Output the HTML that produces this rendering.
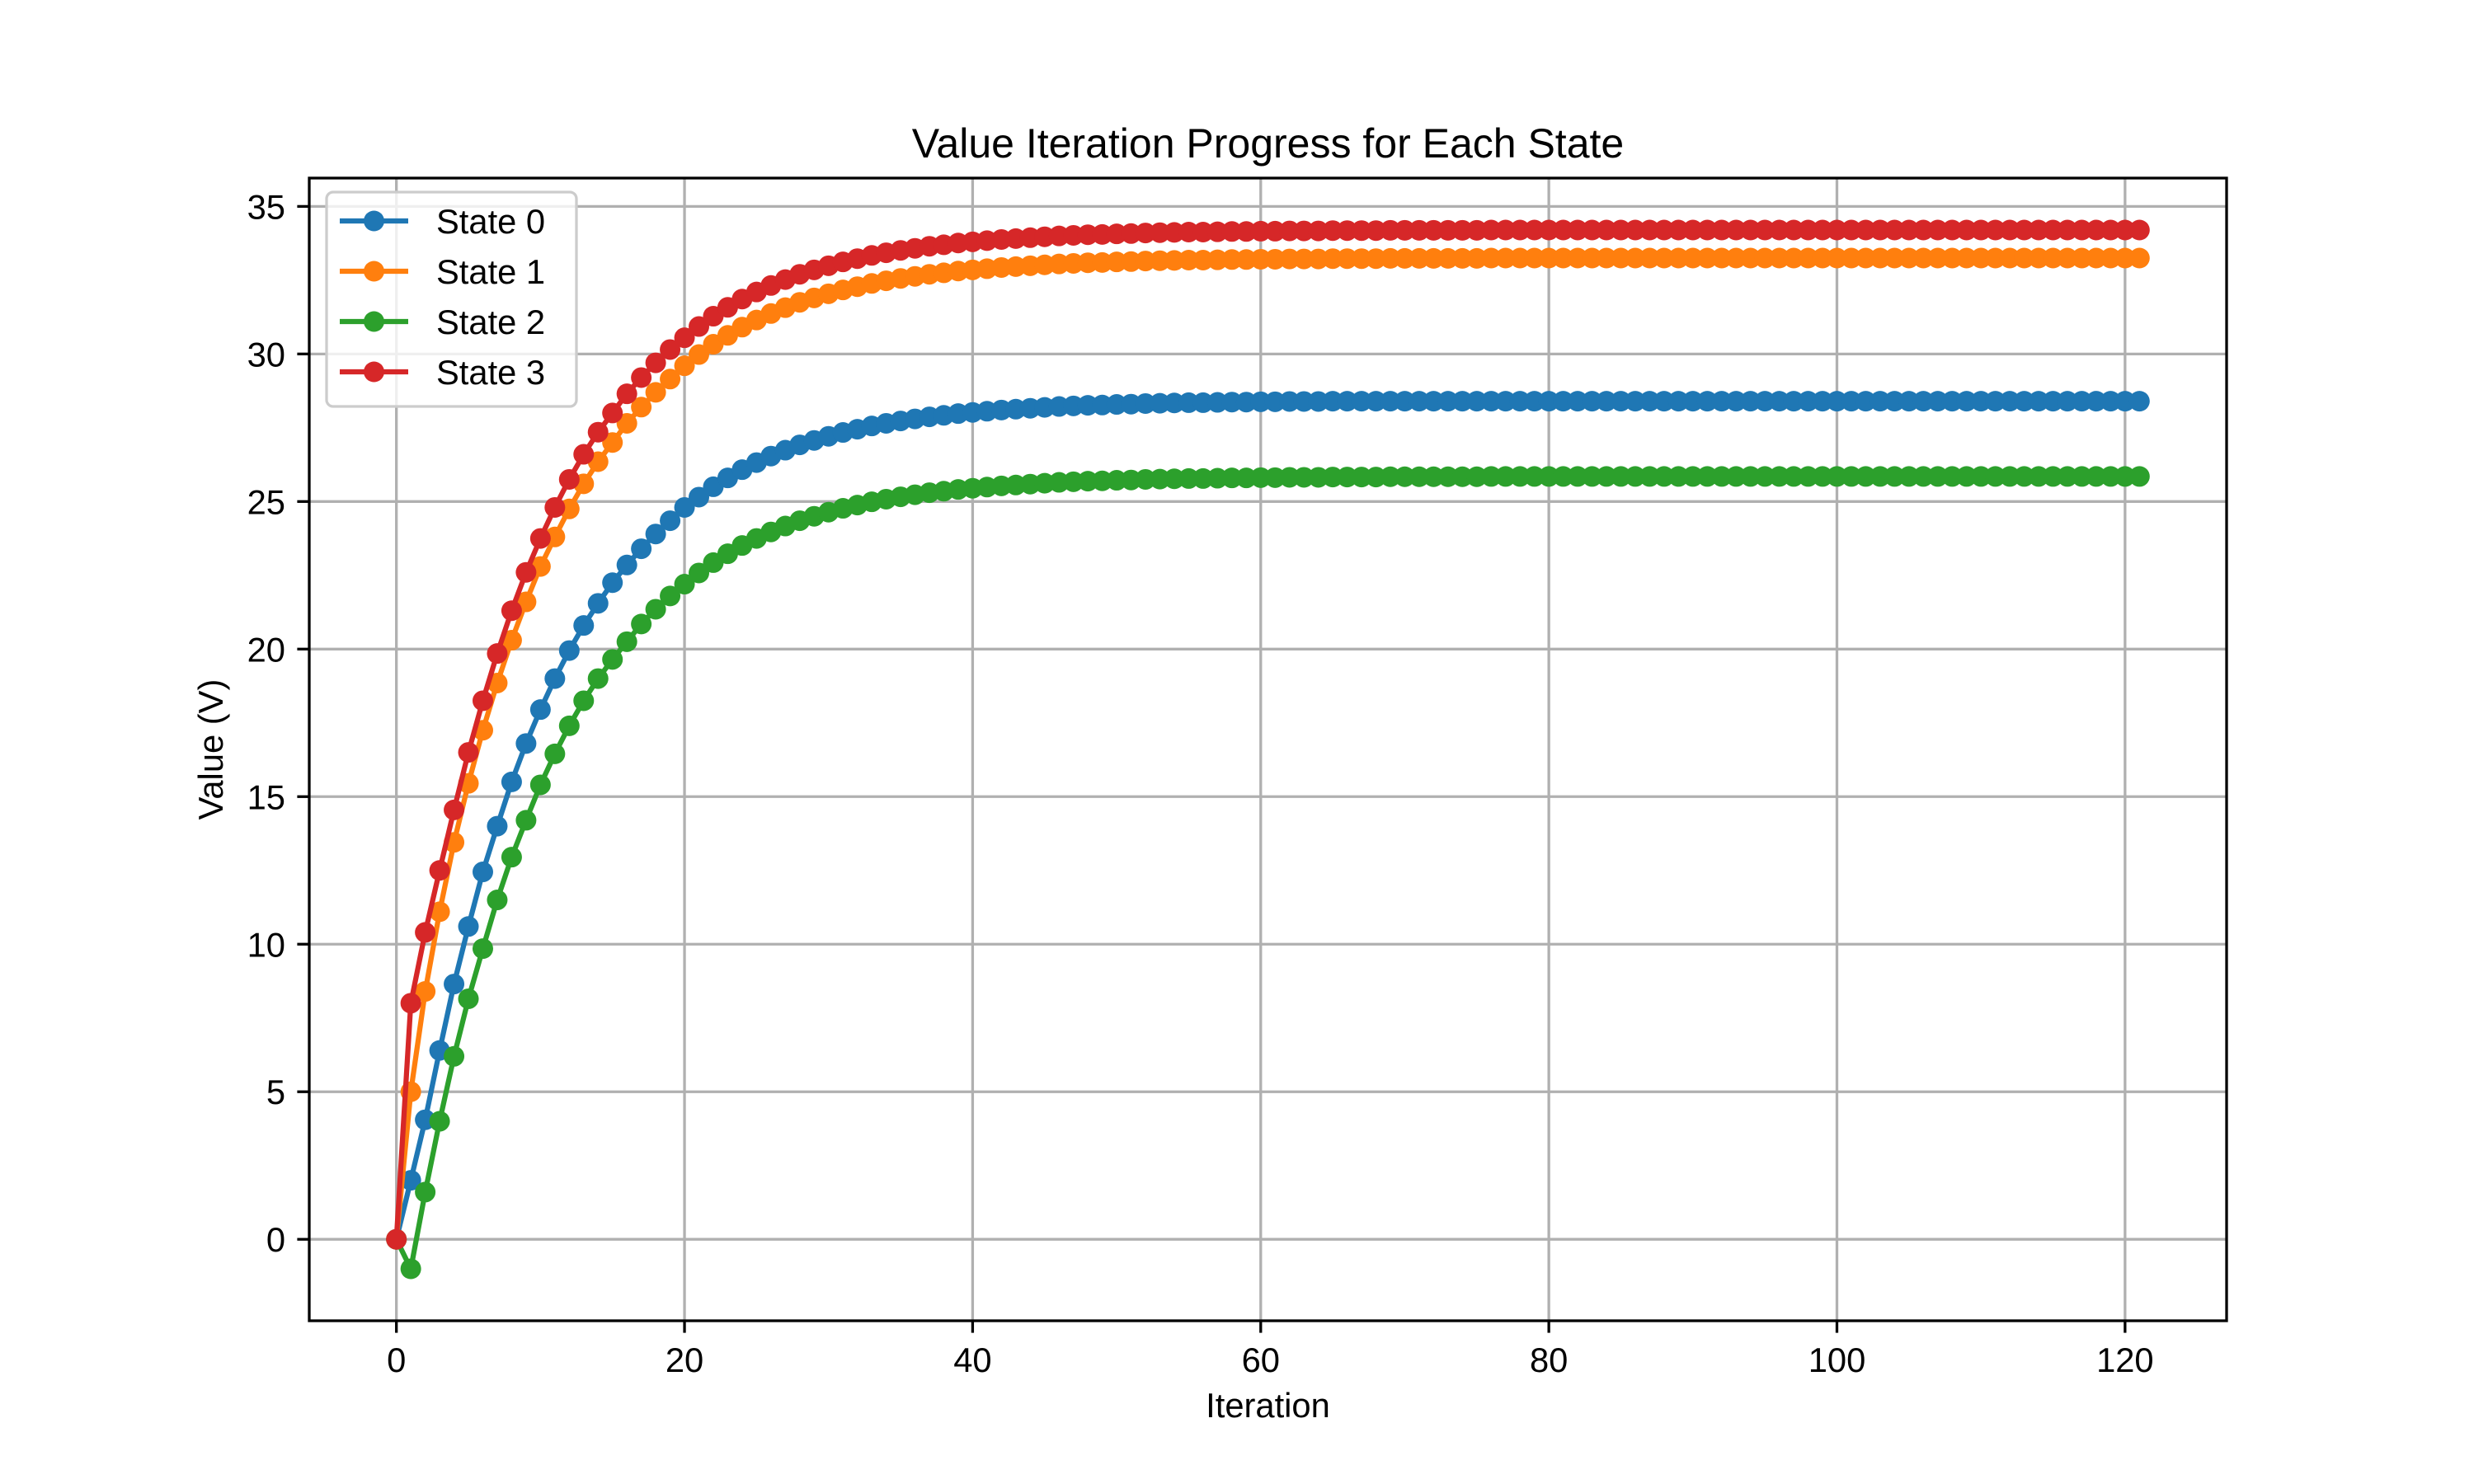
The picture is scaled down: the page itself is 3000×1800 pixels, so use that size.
<!DOCTYPE html>
<html><head><meta charset="utf-8"><style>
html,body{margin:0;padding:0;background:#fff;}
svg{display:block;font-family:"Liberation Sans","DejaVu Sans",sans-serif;}
</style></head><body>
<svg id="chart" width="3000" height="1800" viewBox="0 0 3000 1800" xmlns="http://www.w3.org/2000/svg">
<rect width="3000" height="1800" fill="#fff"/>
<g id="grid"></g>
<g id="series"></g>
<rect x="375" y="216" width="2325" height="1386" fill="none" stroke="#000" stroke-width="3.3"/>
<g id="ticks"></g>
<text x="1537.5" y="191" text-anchor="middle" font-size="50">Value Iteration Progress for Each State</text>
<text x="1537.5" y="1719" text-anchor="middle" font-size="41.7">Iteration</text>
<text x="0" y="0" transform="translate(270,909) rotate(-90)" text-anchor="middle" font-size="41.7">Value (V)</text>
<g id="legend"></g>
</svg>
<script>
const seriesNames = ["State 0","State 1","State 2","State 3"];
const colors = ["#1f77b4","#ff7f0e","#2ca02c","#d62728"];
const xTicks = [0,20,40,60,80,100,120];
const yTicks = [0,5,10,15,20,25,30,35];
const state0 = [0,2.0,4.05,6.4,8.65,10.6,12.45,14.0,15.5,16.8,17.95,19.0,19.95,20.8,21.55,22.25,22.85,23.4,23.9,24.35,24.8,25.15,25.5,25.8,26.08,26.32,26.54,26.74,26.92,27.07,27.21,27.34,27.45,27.56,27.65,27.73,27.8,27.87,27.92,27.98,28.02,28.06,28.1,28.13,28.16,28.19,28.22,28.24,28.26,28.27,28.29,28.3,28.32,28.33,28.34,28.35,28.35,28.36,28.37,28.37,28.38,28.38,28.39,28.39,28.39,28.4,28.4,28.4,28.4,28.4,28.4,28.4,28.4,28.4,28.4,28.4,28.4,28.4,28.4,28.4,28.4,28.4,28.4,28.4,28.4,28.4,28.4,28.4,28.4,28.4,28.4,28.4,28.4,28.4,28.4,28.4,28.4,28.4,28.4,28.4,28.4,28.4,28.4,28.4,28.4,28.4,28.4,28.4,28.4,28.4,28.4,28.4,28.4,28.4,28.4,28.4,28.4,28.4,28.4,28.4,28.4,28.4];
const state1 = [0,5.0,8.4,11.1,13.45,15.45,17.25,18.85,20.3,21.6,22.8,23.8,24.75,25.6,26.35,27.0,27.65,28.2,28.7,29.15,29.6,29.98,30.33,30.63,30.91,31.15,31.37,31.57,31.75,31.9,32.04,32.17,32.28,32.39,32.48,32.56,32.63,32.7,32.75,32.81,32.85,32.89,32.93,32.96,32.99,33.02,33.05,33.07,33.09,33.1,33.12,33.13,33.15,33.16,33.17,33.18,33.18,33.19,33.2,33.2,33.21,33.21,33.22,33.22,33.22,33.23,33.23,33.23,33.23,33.24,33.24,33.24,33.24,33.24,33.24,33.24,33.25,33.25,33.25,33.25,33.25,33.25,33.25,33.25,33.25,33.25,33.25,33.25,33.25,33.25,33.25,33.25,33.25,33.25,33.25,33.25,33.25,33.25,33.25,33.25,33.25,33.25,33.25,33.25,33.25,33.25,33.25,33.25,33.25,33.25,33.25,33.25,33.25,33.25,33.25,33.25,33.25,33.25,33.25,33.25,33.25,33.25];
const state2 = [0,-1.0,1.6,4.0,6.2,8.15,9.85,11.5,12.95,14.2,15.4,16.45,17.4,18.25,19.0,19.65,20.25,20.85,21.35,21.8,22.2,22.58,22.93,23.23,23.51,23.75,23.97,24.17,24.35,24.5,24.64,24.77,24.88,24.99,25.08,25.16,25.23,25.3,25.35,25.41,25.45,25.49,25.53,25.56,25.59,25.62,25.65,25.67,25.69,25.7,25.72,25.73,25.75,25.76,25.77,25.78,25.78,25.79,25.8,25.8,25.81,25.81,25.82,25.82,25.82,25.83,25.83,25.83,25.83,25.84,25.84,25.84,25.84,25.84,25.84,25.84,25.85,25.85,25.85,25.85,25.85,25.85,25.85,25.85,25.85,25.85,25.85,25.85,25.85,25.85,25.85,25.85,25.85,25.85,25.85,25.85,25.85,25.85,25.85,25.85,25.85,25.85,25.85,25.85,25.85,25.85,25.85,25.85,25.85,25.85,25.85,25.85,25.85,25.85,25.85,25.85,25.85,25.85,25.85,25.85,25.85,25.85];
const state3 = [0,8.0,10.4,12.5,14.55,16.5,18.25,19.85,21.3,22.6,23.75,24.8,25.75,26.6,27.35,28.0,28.65,29.2,29.7,30.15,30.55,30.93,31.28,31.58,31.86,32.1,32.32,32.52,32.7,32.85,32.99,33.12,33.23,33.34,33.43,33.51,33.58,33.65,33.7,33.76,33.8,33.84,33.88,33.91,33.94,33.97,34.0,34.02,34.04,34.05,34.07,34.08,34.1,34.11,34.12,34.13,34.13,34.14,34.15,34.15,34.16,34.16,34.17,34.17,34.17,34.18,34.18,34.18,34.18,34.19,34.19,34.19,34.19,34.19,34.19,34.19,34.2,34.2,34.2,34.2,34.2,34.2,34.2,34.2,34.2,34.2,34.2,34.2,34.2,34.2,34.2,34.2,34.2,34.2,34.2,34.2,34.2,34.2,34.2,34.2,34.2,34.2,34.2,34.2,34.2,34.2,34.2,34.2,34.2,34.2,34.2,34.2,34.2,34.2,34.2,34.2,34.2,34.2,34.2,34.2,34.2,34.2];
const allSeries = [state0,state1,state2,state3];

const NS="http://www.w3.org/2000/svg";
const L=375,R=2700,T=216,B=1602;
let n=0; allSeries.forEach(s=>n=Math.max(n,s.length));
const xmin=0,xmax=n-1, xpad=(xmax-xmin)*0.05;
let ymin=Infinity,ymax=-Infinity;
allSeries.forEach(s=>s.forEach(v=>{ymin=Math.min(ymin,v);ymax=Math.max(ymax,v);}));
const ypad=(ymax-ymin)*0.05;
const x0=xmin-xpad,x1=xmax+xpad,y0=ymin-ypad,y1=ymax+ypad;
function xs(v){return L+(v-x0)/(x1-x0)*(R-L);}
function ys(v){return B-(v-y0)/(y1-y0)*(B-T);}
function mk(tag,attrs,parent){const e=document.createElementNS(NS,tag);for(const k in attrs)e.setAttribute(k,attrs[k]);parent.appendChild(e);return e;}

const grid=document.getElementById('grid'), ticks=document.getElementById('ticks');
xTicks.forEach(t=>{
  const X=xs(t);
  const g=mk('line',{x1:X,x2:X,y1:T,y2:B,stroke:'#b0b0b0','stroke-width':3.3},grid);
  
  
  const tk=mk('line',{x1:X,x2:X,y1:B,y2:B+14.6,stroke:'#000','stroke-width':3.3},ticks);
  
  
  const tx=mk('text',{x:X,y:B+62,'text-anchor':'middle','font-size':41.7},ticks);
  tx.textContent=t;
  
  
});
yTicks.forEach(t=>{
  const Y=ys(t);
  const g=mk('line',{x1:L,x2:R,y1:Y,y2:Y,stroke:'#b0b0b0','stroke-width':3.3},grid);
  
  
  const tk=mk('line',{x1:L-14.6,x2:L,y1:Y,y2:Y,stroke:'#000','stroke-width':3.3},ticks);
  
  
  const tx=mk('text',{x:L-29,y:Y+15,'text-anchor':'end','font-size':41.7},ticks);
  tx.textContent=t;
  
  
});

const sl=document.getElementById('series');
allSeries.forEach((s,i)=>{
  const g=mk('g',{},sl);
  
  
  const pts=s.map((v,k)=>xs(k).toFixed(2)+','+ys(v).toFixed(2)).join(' ');
  const pl=mk('polyline',{points:pts,fill:'none',stroke:colors[i],'stroke-width':6.25,'stroke-linejoin':'round'},g);
  
  
  s.forEach((v,k)=>{
    const c=mk('circle',{cx:xs(k),cy:ys(v),r:12.5,fill:colors[i]},g);
    
    
  });
});

const lg=document.getElementById('legend');
const box=mk('rect',{x:396,y:233,width:303,height:260,rx:8,fill:'#fff','fill-opacity':0.8,stroke:'#cccccc','stroke-width':3.3},lg);


seriesNames.forEach((nm,i)=>{
  const Y=268+i*61;
  const g=mk('g',{},lg);
  
  
  const ln=mk('line',{x1:412,x2:495,y1:Y,y2:Y,stroke:colors[i],'stroke-width':6.25},g);
  
  
  const c=mk('circle',{cx:453.5,cy:Y,r:12.5,fill:colors[i]},g);
  
  
  const t=mk('text',{x:529,y:Y+15,'font-size':41.7},g);
  t.textContent=nm;
  
  
});
</script>
</body></html>
